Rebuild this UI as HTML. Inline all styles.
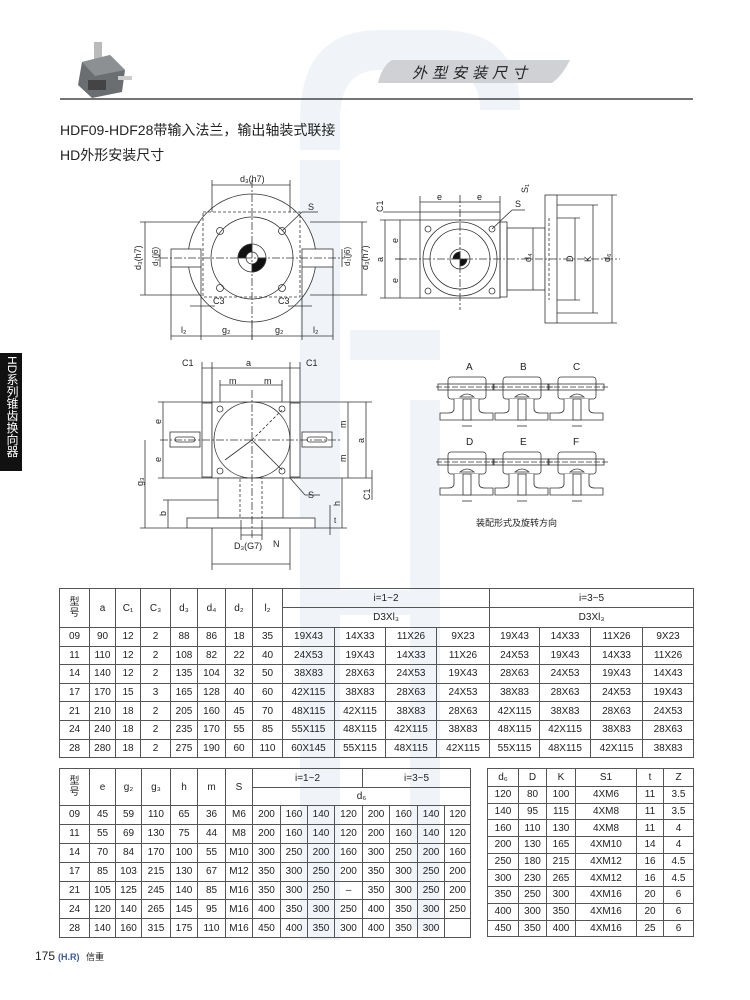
<!DOCTYPE html>
<html><head><meta charset="utf-8">
<style>
body{margin:0;background:#fff;}
#p{position:relative;width:750px;height:1000px;overflow:hidden;background:#fff;font-family:"Liberation Sans","Noto Sans CJK SC",sans-serif;color:#222;}
.a{position:absolute;}
table{border-collapse:collapse;position:absolute;table-layout:fixed;font-size:10px;}
td{border:1px solid #555;text-align:center;padding:0;white-space:nowrap;overflow:hidden;}
</style></head><body><div id="p">
<svg class="a" style="left:0;top:0" width="750" height="1000" viewBox="0 0 750 1000" font-family="Liberation Sans, Noto Sans CJK SC, sans-serif">
<g fill="#f0f4f9">
<path d="M300 150 L300 120 Q300 30 380 30 L440 30 Q520 30 520 110 L480 110 Q480 70 440 70 L380 70 Q340 70 340 120 L340 150 Z"/>
<rect x="300" y="160" width="40" height="780"/>
<rect x="350" y="330" width="90" height="30"/>
<rect x="410" y="400" width="30" height="530"/>
<rect x="340" y="590" width="100" height="25"/>
</g>
<g>
<rect x="94" y="42" width="8" height="18" fill="#bbb"/>
<path d="M82 62 L110 55 L125 70 L122 92 L92 98 L78 85 Z" fill="#6a6e70"/>
<path d="M82 62 L110 55 L125 70 L95 76 Z" fill="#8c9092"/>
<rect x="88" y="80" width="18" height="10" fill="#444"/>
<rect x="118" y="76" width="14" height="4" fill="#ccc"/>
</g>
<path d="M392 60 L570 60 Q562 76 552 83 L378 83 Q382 66 392 60 Z" fill="#cfd1d4"/>
<text x="412" y="78" font-size="15" font-style="italic" letter-spacing="5" fill="#222">外型安装尺寸</text>
<line x1="60" y1="99" x2="693" y2="99" stroke="#222" stroke-width="1.2"/>
<rect x="0" y="353" width="22" height="118" fill="#111"/>
<g stroke="#333" stroke-width="0.8" fill="none">
<circle cx="252" cy="258" r="64" fill="#fff"/>
<circle cx="252" cy="258" r="41"/>
<rect x="203" y="212" width="97" height="85" stroke-dasharray="3,2"/>
<rect x="171" y="249" width="30" height="18" fill="#fff"/>
<rect x="302" y="249" width="31" height="18" fill="#fff"/>
<circle cx="220" cy="231" r="3.5"/><circle cx="282" cy="231" r="3.5"/>
<circle cx="220" cy="288" r="3.5"/><circle cx="282" cy="288" r="3.5"/>
<circle cx="252" cy="258" r="14"/>
<path d="M252 244 A14 14 0 0 0 238 258 L252 258 Z M252 272 A14 14 0 0 0 266 258 L252 258 Z" fill="#111"/>
<circle cx="252" cy="258" r="6" fill="#fff"/>
<line x1="252" y1="180" x2="252" y2="340" stroke-dasharray="8,2,2,2"/>
<line x1="160" y1="258" x2="345" y2="258" stroke-dasharray="8,2,2,2"/>
<line x1="212" y1="185" x2="290" y2="185"/><line x1="212" y1="180" x2="212" y2="212"/><line x1="290" y1="180" x2="290" y2="212"/>
<line x1="145" y1="222" x2="145" y2="295"/><line x1="140" y1="222" x2="200" y2="222"/><line x1="140" y1="295" x2="200" y2="295"/>
<line x1="160" y1="249" x2="160" y2="267"/>
<line x1="362" y1="222" x2="362" y2="295"/><line x1="310" y1="222" x2="367" y2="222"/><line x1="310" y1="295" x2="367" y2="295"/>
<line x1="342" y1="249" x2="342" y2="267"/>
<line x1="171" y1="336" x2="333" y2="336"/>
<line x1="171" y1="267" x2="171" y2="340"/><line x1="201" y1="267" x2="201" y2="340"/><line x1="252" y1="320" x2="252" y2="340"/><line x1="302" y1="267" x2="302" y2="340"/><line x1="333" y1="267" x2="333" y2="340"/>
<line x1="190" y1="306" x2="215" y2="306"/><line x1="288" y1="306" x2="312" y2="306"/>
<line x1="282" y1="231" x2="302" y2="212"/><line x1="302" y1="212" x2="318" y2="212"/>
<rect x="420" y="212" width="80" height="86" fill="#fff"/>
<line x1="420" y1="220" x2="500" y2="220"/>
<circle cx="460" cy="259" r="37"/><circle cx="460" cy="259" r="30"/>
<circle cx="460" cy="259" r="10"/>
<path d="M460 252 A7 7 0 0 0 453 259 L460 259 Z M460 266 A7 7 0 0 0 467 259 L460 259 Z" fill="#111"/>
<circle cx="428" cy="229" r="3"/><circle cx="492" cy="229" r="3"/><circle cx="428" cy="291" r="3"/><circle cx="492" cy="291" r="3"/>
<rect x="500" y="222" width="7" height="75"/>
<rect x="507" y="228" width="38" height="62"/>
<rect x="545" y="195" width="12" height="128" fill="#fff"/>
<line x1="549" y1="218" x2="549" y2="300" stroke-dasharray="3,2"/>
<line x1="460" y1="195" x2="460" y2="310" stroke-dasharray="8,2,2,2"/>
<line x1="395" y1="259" x2="620" y2="259" stroke-dasharray="8,2,2,2"/>
<line x1="420" y1="202" x2="500" y2="202"/><line x1="420" y1="196" x2="420" y2="212"/><line x1="500" y1="196" x2="500" y2="212"/>
<line x1="385" y1="220" x2="385" y2="298"/><line x1="380" y1="220" x2="420" y2="220"/><line x1="380" y1="298" x2="420" y2="298"/>
<line x1="400" y1="220" x2="400" y2="298"/><line x1="395" y1="259" x2="405" y2="259"/>
<line x1="383" y1="212" x2="420" y2="212"/>
<line x1="533" y1="228" x2="533" y2="290"/>
<line x1="575" y1="218" x2="575" y2="300"/><line x1="557" y1="218" x2="580" y2="218"/><line x1="557" y1="300" x2="580" y2="300"/>
<line x1="593" y1="205" x2="593" y2="313"/><line x1="557" y1="205" x2="598" y2="205"/><line x1="557" y1="313" x2="598" y2="313"/>
<line x1="612" y1="195" x2="612" y2="323"/><line x1="557" y1="195" x2="617" y2="195"/><line x1="557" y1="323" x2="617" y2="323"/>
<line x1="492" y1="229" x2="512" y2="210"/><line x1="512" y1="210" x2="525" y2="210"/>
<rect x="202" y="403" width="10" height="74"/><rect x="290" y="403" width="10" height="74"/>
<rect x="212" y="402" width="78" height="76" fill="#fff"/>
<circle cx="252" cy="440" r="38"/>
<circle cx="220" cy="409" r="3"/><circle cx="282" cy="409" r="3"/><circle cx="220" cy="471" r="3"/><circle cx="282" cy="471" r="3"/>
<rect x="170" y="432" width="30" height="15" fill="#fff"/><rect x="175" y="437" width="20" height="5" rx="2.5"/>
<rect x="302" y="432" width="30" height="15" fill="#fff"/><rect x="307" y="437" width="20" height="5" rx="2.5"/>
<rect x="218" y="478" width="65" height="40" fill="#fff"/>
<rect x="187" y="518" width="128" height="10" fill="#fff"/>
<rect x="240" y="478" width="22" height="40" stroke-dasharray="3,2"/>
<line x1="252" y1="440" x2="282" y2="410" stroke-dasharray="3,2"/>
<line x1="225" y1="460" x2="252" y2="440"/>
<line x1="252" y1="440" x2="282" y2="470"/>
<line x1="252" y1="390" x2="252" y2="540" stroke-dasharray="8,2,2,2"/>
<line x1="160" y1="440" x2="340" y2="440" stroke-dasharray="8,2,2,2"/>
<line x1="202" y1="368" x2="300" y2="368"/><line x1="202" y1="362" x2="202" y2="402"/><line x1="212" y1="362" x2="212" y2="402"/><line x1="290" y1="362" x2="290" y2="402"/><line x1="300" y1="362" x2="300" y2="402"/>
<line x1="220" y1="385" x2="282" y2="385"/><line x1="220" y1="380" x2="220" y2="402"/><line x1="282" y1="380" x2="282" y2="402"/>
<line x1="163" y1="402" x2="163" y2="478"/><line x1="158" y1="402" x2="212" y2="402"/><line x1="158" y1="478" x2="212" y2="478"/>
<line x1="145" y1="440" x2="145" y2="528"/><line x1="140" y1="528" x2="187" y2="528"/>
<line x1="168" y1="500" x2="168" y2="528"/><line x1="163" y1="500" x2="218" y2="500"/>
<line x1="348" y1="402" x2="348" y2="478"/>
<line x1="366" y1="402" x2="366" y2="478"/><line x1="290" y1="402" x2="372" y2="402"/><line x1="290" y1="478" x2="372" y2="478"/>
<line x1="342" y1="478" x2="342" y2="528"/><line x1="315" y1="528" x2="347" y2="528"/>
<line x1="330" y1="505" x2="330" y2="535"/>
<line x1="372" y1="470" x2="372" y2="500"/>
<line x1="212" y1="528" x2="212" y2="570"/><line x1="290" y1="528" x2="290" y2="570"/>
<line x1="212" y1="564" x2="290" y2="564"/>
<line x1="241" y1="520" x2="241" y2="540"/><line x1="262" y1="520" x2="262" y2="540"/><line x1="241" y1="535" x2="262" y2="535"/>
<line x1="290" y1="478" x2="305" y2="495"/><line x1="305" y1="495" x2="320" y2="495"/>
</g>
<g font-size="9" fill="#222">
<text x="240" y="182">d₃(h7)</text><text x="308" y="210">S</text>
<text x="141" y="270" transform="rotate(-90 141 270)">d₃(h7)</text>
<text x="158" y="266" transform="rotate(-90 158 266)" font-size="8">d₂(j6)</text>
<text x="350" y="266" transform="rotate(-90 350 266)" font-size="8">d₂(j6)</text>
<text x="368" y="270" transform="rotate(-90 368 270)">d₃(h7)</text>
<text x="213" y="304">C3</text><text x="278" y="304">C3</text>
<text x="181" y="333">l₂</text><text x="222" y="333">g₂</text><text x="275" y="333">g₂</text><text x="313" y="333">l₂</text>
<text x="437" y="200">e</text><text x="477" y="200">e</text>
<text x="383" y="212" transform="rotate(-90 383 212)">C1</text>
<text x="528" y="193" transform="rotate(-90 528 193)">S₁</text>
<text x="515" y="207">S</text>
<text x="383" y="262" transform="rotate(-90 383 262)">a</text>
<text x="398" y="243" transform="rotate(-90 398 243)">e</text><text x="398" y="283" transform="rotate(-90 398 283)">e</text>
<text x="531" y="262" transform="rotate(-90 531 262)">d₄</text>
<text x="573" y="262" transform="rotate(-90 573 262)">D</text>
<text x="591" y="262" transform="rotate(-90 591 262)">K</text>
<text x="610" y="262" transform="rotate(-90 610 262)">d₆</text>
<text x="182" y="366">C1</text><text x="246" y="366">a</text><text x="306" y="366">C1</text>
<text x="229" y="384">m</text><text x="264" y="384">m</text>
<text x="161" y="424" transform="rotate(-90 161 424)">e</text><text x="161" y="462" transform="rotate(-90 161 462)">e</text>
<text x="346" y="428" transform="rotate(-90 346 428)">m</text><text x="346" y="462" transform="rotate(-90 346 462)">m</text>
<text x="364" y="443" transform="rotate(-90 364 443)">a</text>
<text x="143" y="486" transform="rotate(-90 143 486)">g₃</text>
<text x="166" y="516" transform="rotate(-90 166 516)">b</text>
<text x="340" y="506" transform="rotate(-90 340 506)">h</text>
<text x="370" y="500" transform="rotate(-90 370 500)">C1</text>
<text x="334" y="523" font-size="8">t</text>
<text x="308" y="498">S</text>
<text x="234" y="549">D₃(G7)</text><text x="273" y="547">N</text>
<text x="476" y="526" font-size="9">装配形式及旋转方向</text>
<text x="466" y="370" font-size="10">A</text><text x="520" y="370" font-size="10">B</text><text x="573" y="370" font-size="10">C</text>
<text x="466" y="445" font-size="10">D</text><text x="520" y="445" font-size="10">E</text><text x="573" y="445" font-size="10">F</text>
</g>
<defs>
<g id="ic" stroke="#333" stroke-width="0.8" fill="#fff">
<rect x="8" y="0" width="38" height="22" rx="3"/>
<path d="M14 22 L14 32 Q14 36 8 36 L0 36 L0 43 L53 43 L53 36 L45 36 Q39 36 39 32 L39 22"/>
<rect x="23" y="22" width="8" height="21"/>
<path d="M20 20 Q27 14 34 20 Z"/>
<line x1="-4" y1="10" x2="58" y2="10" stroke-dasharray="6,2"/>
<rect x="-2" y="7" width="56" height="6" fill="none"/>
<line x1="22" y1="49" x2="32" y2="49"/>
</g>
</defs>
<use href="#ic" x="440" y="377"/><use href="#ic" x="495" y="377"/><use href="#ic" x="550" y="377"/>
<use href="#ic" x="440" y="452"/><use href="#ic" x="495" y="452"/><use href="#ic" x="550" y="452"/>
<text x="35" y="960" font-size="12" fill="#222">175</text>
<text x="58" y="960" font-size="9" fill="#3a5a9a" font-weight="bold">(H.R)</text><text x="86" y="960" font-size="9" fill="#222">信重</text>
</svg>
<div class="a" style="left:2px;top:356px;width:18px;height:114px;color:#fff;font-size:12px;line-height:16px;writing-mode:vertical-rl;white-space:nowrap;">HD系列锥齿换向器</div>
<div class="a" style="left:60px;top:120px;font-size:14px;">HDF09-HDF28带输入法兰，输出轴装式联接</div>
<div class="a" style="left:60px;top:145px;font-size:14px;">HD外形安装尺寸</div>

<table style="left:59px;top:588px;width:634px;">
<colgroup><col style="width:30px"><col style="width:26px"><col style="width:25px"><col style="width:30px"><col style="width:27px"><col style="width:28px"><col style="width:27px"><col style="width:30px"><col style="width:52px"><col style="width:51px"><col style="width:51px"><col style="width:53px"><col style="width:50px"><col style="width:51px"><col style="width:52px"><col style="width:51px"></colgroup>
<tr style="height:19px"><td rowspan="2" style="line-height:11px">型<br>号</td><td rowspan="2">a</td><td rowspan="2">C₁</td><td rowspan="2">C₃</td><td rowspan="2">d₃</td><td rowspan="2">d₄</td><td rowspan="2">d₂</td><td rowspan="2">l₂</td><td colspan="4">i=1~2</td><td colspan="4">i=3~5</td></tr>
<tr style="height:20px"><td colspan="4">D3Xl₃</td><td colspan="4">D3Xl₃</td></tr>
<tr style="height:18.6px"><td>09</td><td>90</td><td>12</td><td>2</td><td>88</td><td>86</td><td>18</td><td>35</td><td>19X43</td><td>14X33</td><td>11X26</td><td>9X23</td><td>19X43</td><td>14X33</td><td>11X26</td><td>9X23</td></tr>
<tr style="height:18.6px"><td>11</td><td>110</td><td>12</td><td>2</td><td>108</td><td>82</td><td>22</td><td>40</td><td>24X53</td><td>19X43</td><td>14X33</td><td>11X26</td><td>24X53</td><td>19X43</td><td>14X33</td><td>11X26</td></tr>
<tr style="height:18.6px"><td>14</td><td>140</td><td>12</td><td>2</td><td>135</td><td>104</td><td>32</td><td>50</td><td>38X83</td><td>28X63</td><td>24X53</td><td>19X43</td><td>28X63</td><td>24X53</td><td>19X43</td><td>14X43</td></tr>
<tr style="height:18.6px"><td>17</td><td>170</td><td>15</td><td>3</td><td>165</td><td>128</td><td>40</td><td>60</td><td>42X115</td><td>38X83</td><td>28X63</td><td>24X53</td><td>38X83</td><td>28X63</td><td>24X53</td><td>19X43</td></tr>
<tr style="height:18.6px"><td>21</td><td>210</td><td>18</td><td>2</td><td>205</td><td>160</td><td>45</td><td>70</td><td>48X115</td><td>42X115</td><td>38X83</td><td>28X63</td><td>42X115</td><td>38X83</td><td>28X63</td><td>24X53</td></tr>
<tr style="height:18.6px"><td>24</td><td>240</td><td>18</td><td>2</td><td>235</td><td>170</td><td>55</td><td>85</td><td>55X115</td><td>48X115</td><td>42X115</td><td>38X83</td><td>48X115</td><td>42X115</td><td>38X83</td><td>28X63</td></tr>
<tr style="height:18.6px"><td>28</td><td>280</td><td>18</td><td>2</td><td>275</td><td>190</td><td>60</td><td>110</td><td>60X145</td><td>55X115</td><td>48X115</td><td>42X115</td><td>55X115</td><td>48X115</td><td>42X115</td><td>38X83</td></tr>
</table>

<table style="left:59px;top:768px;width:411px;">
<colgroup><col style="width:30px"><col style="width:26px"><col style="width:26px"><col style="width:29px"><col style="width:27px"><col style="width:28px"><col style="width:27px"><col style="width:28px"><col style="width:27px"><col style="width:27px"><col style="width:28px"><col style="width:27px"><col style="width:28px"><col style="width:27px"><col style="width:26px"></colgroup>
<tr style="height:19px"><td rowspan="2" style="line-height:11px">型<br>号</td><td rowspan="2">e</td><td rowspan="2">g₂</td><td rowspan="2">g₃</td><td rowspan="2">h</td><td rowspan="2">m</td><td rowspan="2">S</td><td colspan="4" style="border-bottom:none">i=1~2</td><td colspan="4" style="border-bottom:none">i=3~5</td></tr>
<tr style="height:18px"><td colspan="8" style="border-top:1px solid #555">d₆</td></tr>
<tr style="height:18.9px"><td>09</td><td>45</td><td>59</td><td>110</td><td>65</td><td>36</td><td>M6</td><td>200</td><td>160</td><td>140</td><td>120</td><td>200</td><td>160</td><td>140</td><td>120</td></tr>
<tr style="height:18.9px"><td>11</td><td>55</td><td>69</td><td>130</td><td>75</td><td>44</td><td>M8</td><td>200</td><td>160</td><td>140</td><td>120</td><td>200</td><td>160</td><td>140</td><td>120</td></tr>
<tr style="height:18.9px"><td>14</td><td>70</td><td>84</td><td>170</td><td>100</td><td>55</td><td>M10</td><td>300</td><td>250</td><td>200</td><td>160</td><td>300</td><td>250</td><td>200</td><td>160</td></tr>
<tr style="height:18.9px"><td>17</td><td>85</td><td>103</td><td>215</td><td>130</td><td>67</td><td>M12</td><td>350</td><td>300</td><td>250</td><td>200</td><td>350</td><td>300</td><td>250</td><td>200</td></tr>
<tr style="height:18.9px"><td>21</td><td>105</td><td>125</td><td>245</td><td>140</td><td>85</td><td>M16</td><td>350</td><td>300</td><td>250</td><td>–</td><td>350</td><td>300</td><td>250</td><td>200</td></tr>
<tr style="height:18.9px"><td>24</td><td>120</td><td>140</td><td>265</td><td>145</td><td>95</td><td>M16</td><td>400</td><td>350</td><td>300</td><td>250</td><td>400</td><td>350</td><td>300</td><td>250</td></tr>
<tr style="height:18.9px"><td>28</td><td>140</td><td>160</td><td>315</td><td>175</td><td>110</td><td>M16</td><td>450</td><td>400</td><td>350</td><td>300</td><td>400</td><td>350</td><td>300</td><td></td></tr>
</table>

<table style="left:487px;top:768px;width:206px;">
<colgroup><col style="width:31px"><col style="width:28px"><col style="width:29px"><col style="width:61px"><col style="width:27px"><col style="width:30px"></colgroup>
<tr style="height:18px"><td>d₆</td><td>D</td><td>K</td><td>S1</td><td>t</td><td>Z</td></tr>
<tr style="height:16.7px"><td>120</td><td>80</td><td>100</td><td>4XM6</td><td>11</td><td>3.5</td></tr>
<tr style="height:16.7px"><td>140</td><td>95</td><td>115</td><td>4XM8</td><td>11</td><td>3.5</td></tr>
<tr style="height:16.7px"><td>160</td><td>110</td><td>130</td><td>4XM8</td><td>11</td><td>4</td></tr>
<tr style="height:16.7px"><td>200</td><td>130</td><td>165</td><td>4XM10</td><td>14</td><td>4</td></tr>
<tr style="height:16.7px"><td>250</td><td>180</td><td>215</td><td>4XM12</td><td>16</td><td>4.5</td></tr>
<tr style="height:16.7px"><td>300</td><td>230</td><td>265</td><td>4XM12</td><td>16</td><td>4.5</td></tr>
<tr style="height:16.7px"><td>350</td><td>250</td><td>300</td><td>4XM16</td><td>20</td><td>6</td></tr>
<tr style="height:16.7px"><td>400</td><td>300</td><td>350</td><td>4XM16</td><td>20</td><td>6</td></tr>
<tr style="height:16.7px"><td>450</td><td>350</td><td>400</td><td>4XM16</td><td>25</td><td>6</td></tr>
</table>
</div></body></html>
